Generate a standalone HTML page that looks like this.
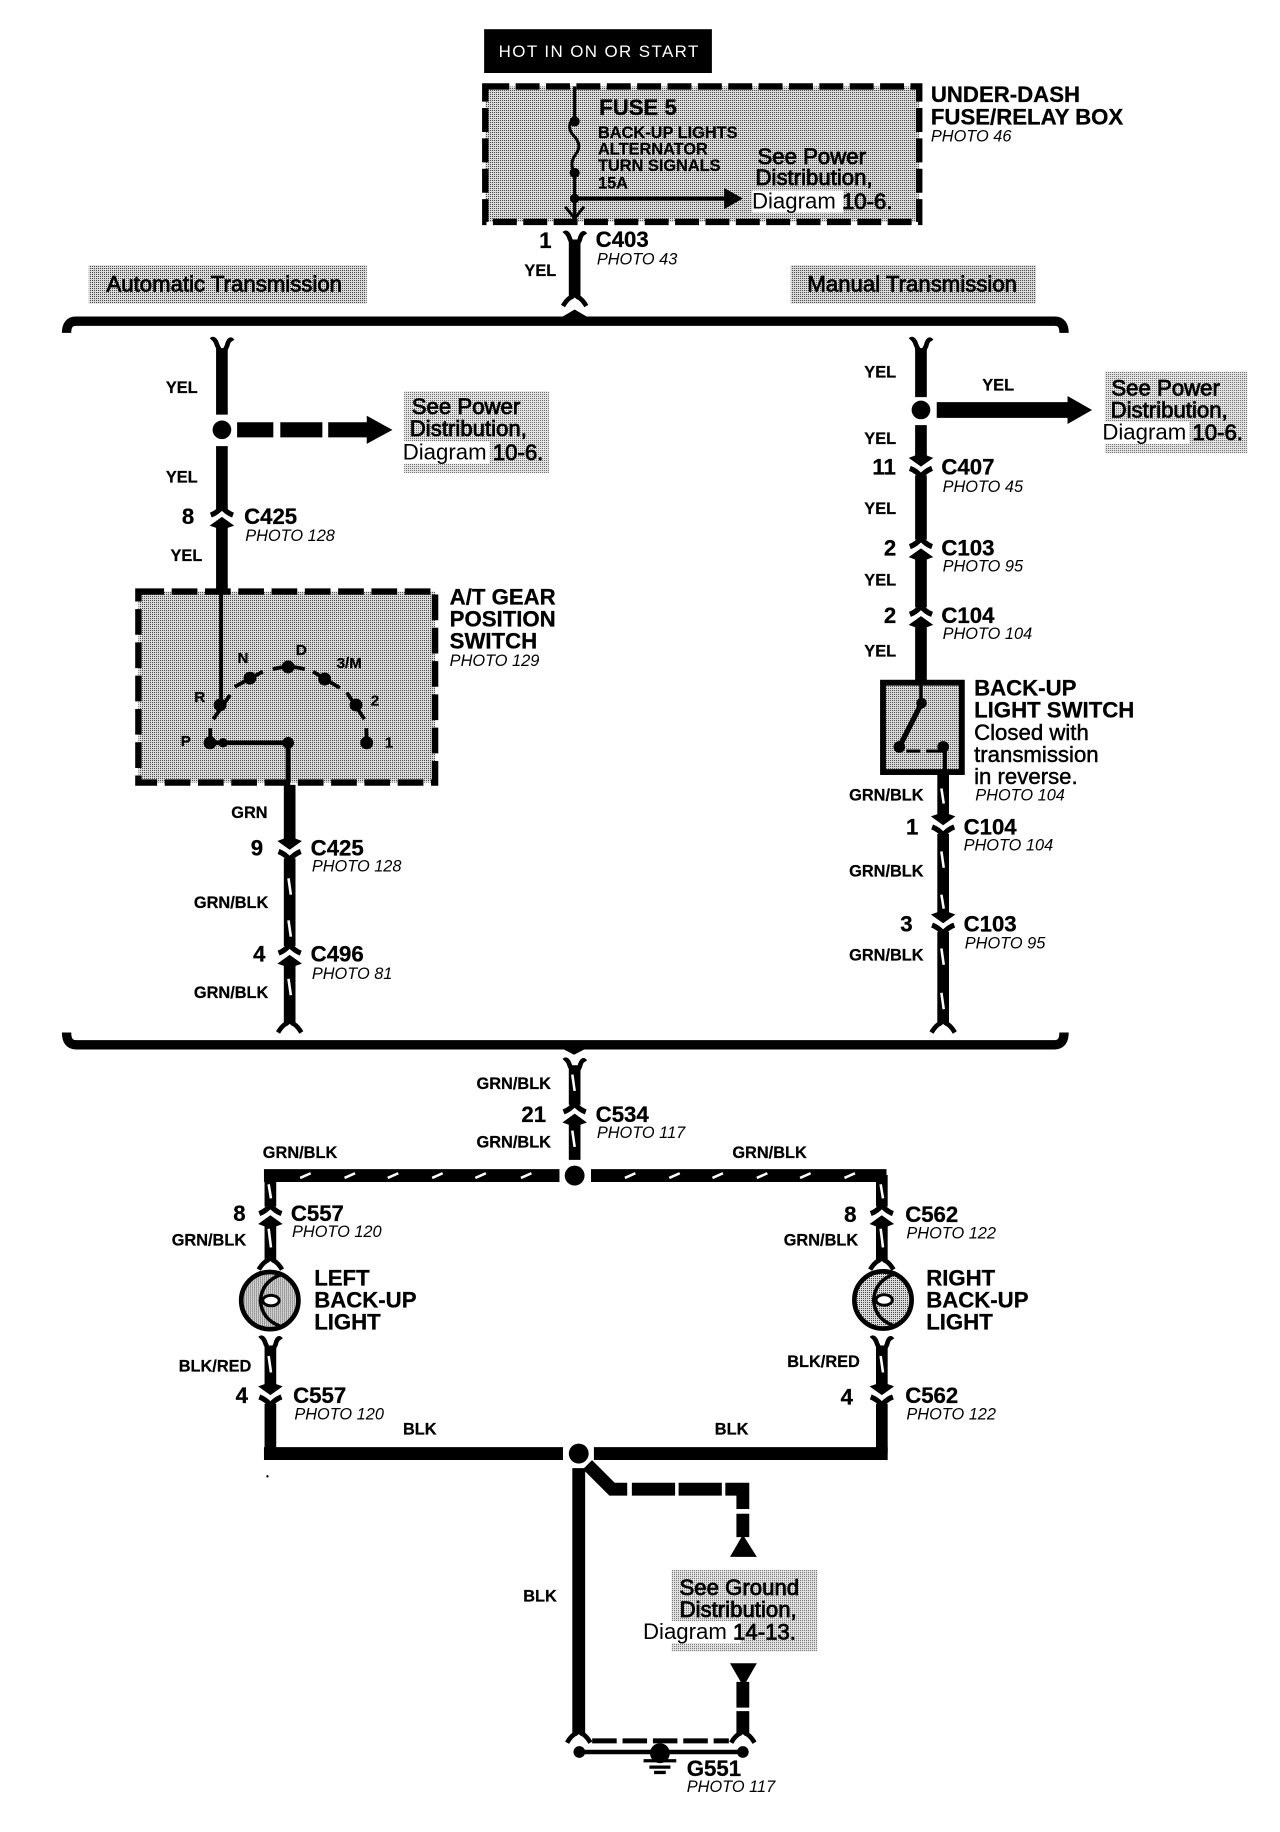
<!DOCTYPE html>
<html><head><meta charset="utf-8"><style>
html,body{margin:0;padding:0;background:#fff}
svg{display:block}
text{font-family:"Liberation Sans",sans-serif;fill:#000;dominant-baseline:central}
.b{font-weight:bold;font-size:19px;stroke:#000;stroke-width:.25}
.s{font-weight:bold;font-size:14px;stroke:#000;stroke-width:.2}
.p{font-style:italic;font-size:14px}
.r{font-size:19px}
.h{stroke:#000;stroke-width:.7}
.c{stroke:#000;stroke-width:.4}
.m{text-anchor:middle}
.w{stroke:#000;fill:none}
.st{stroke:#fff;stroke-width:2.2;fill:none}
</style></head><body>
<svg width="1280" height="1832" viewBox="0 0 1095.9 1568.5" xmlns="http://www.w3.org/2000/svg">
<defs>
<pattern id="d" width="1.7122" height="1.7122" patternUnits="userSpaceOnUse"><rect width="1.7122" height="1.7122" fill="#dcdcdc"/><rect width=".8561" height=".8561" fill="#444"/></pattern>
<pattern id="e" width="1.7122" height="1.7122" patternUnits="userSpaceOnUse"><rect width="1.7122" height="1.7122" fill="#e6e6e6"/><rect width=".8561" height=".8561" fill="#666"/></pattern>
<g id="cu"><path d="M-9.5,-1 Q-4,-3 0,-8 Q4,-3 9.5,-1" class="w" stroke-width="4.5"/><path d="M-10.5,8 L0,0.5 L10.5,8 L5,10 L-5,10Z"/></g>
<g id="cd"><path d="M-9.5,1 Q-4,3 0,8 Q4,3 9.5,1" class="w" stroke-width="4.5"/><path d="M-10.5,-8 L0,-0.5 L10.5,-8 L5,-10 L-5,-10Z"/></g>
<g id="ft"><path d="M-9,-7 Q-7,-9 -5,-5 Q-3,1 0,4 Q4,1 5,-4 Q7,-9 9,-6" class="w" stroke-width="4"/></g>
<g id="fb"><path d="M-10,8 Q-7,3 -4,1 Q-1,0 0,-4 Q1,0 4,1 Q7,3 10,8" class="w" stroke-width="4"/></g>
<g id="fbu"><circle r="24.5" fill="url(#d)" stroke="#000" stroke-width="4"/><path d="M9,-22 Q-7,-16 -8,0 Q-7,16 9,22" class="w" stroke-width="3"/><ellipse cx="1" cy="0" rx="7" ry="4.5" fill="#fff" stroke="#000" stroke-width="2.5"/></g>
</defs>

<!-- top -->
<rect x="414.5" y="25" width="195" height="37.5" fill="#000"/>
<text x="513" y="44" class="m" style="fill:#fff;font-size:14.5px;letter-spacing:1.2px">HOT IN ON OR START</text>

<rect x="415.5" y="74" width="371.5" height="116" fill="url(#d)" stroke="#000" stroke-width="5.5" stroke-dasharray="20.5 5.5"/>
<rect x="644" y="163" width="78" height="19" fill="#fff"/>
<path d="M492,74V100 M492,148V187" class="w" stroke-width="2.7"/>
<path d="M492,100 Q484,108 491,116 Q499,124 493,132 Q487,140 492,148" class="w" stroke-width="2.5"/>
<circle cx="492" cy="104" r="4.3"/><circle cx="492" cy="148" r="4.3"/><circle cx="492" cy="170" r="4"/>
<path d="M492,170H622" class="w" stroke-width="3.5"/><path d="M620,161 L636,170 L620,179Z"/>
<path d="M484,177 L492,187 L500,177" class="w" stroke-width="2.5"/>
<text x="513" y="92" class="b">FUSE 5</text>
<text x="512" y="114" class="s">BACK-UP LIGHTS</text>
<text x="512" y="128" class="s">ALTERNATOR</text>
<text x="512" y="142" class="s">TURN SIGNALS</text>
<text x="512" y="157" class="s">15A</text>
<text x="695" y="134" class="r m h">See Power</text>
<text x="697" y="152" class="r m h">Distribution,</text>
<text x="704" y="172" class="r m">Diagram <tspan class="h">10-6.</tspan></text>
<text x="797" y="81" class="b">UNDER-DASH</text>
<text x="797" y="100" class="b">FUSE/RELAY BOX</text>
<text x="797" y="117" class="p">PHOTO 46</text>

<path d="M492,205V254" class="w" stroke-width="10"/>
<use href="#ft" x="492" y="207"/><use href="#fb" x="492" y="254"/>
<text x="467" y="206" class="b m">1</text>
<text x="510" y="205" class="b">C403</text>
<text x="511" y="222" class="p">PHOTO 43</text>
<text x="449" y="232" class="s">YEL</text>

<rect x="76" y="227" width="238" height="33" fill="url(#d)"/>
<text x="192" y="243" class="r m h">Automatic Transmission</text>
<rect x="677" y="227" width="210" height="33" fill="url(#d)"/>
<text x="781" y="243" class="r m h">Manual Transmission</text>

<path d="M57,285 Q57,275 65,275 H903 Q911,275 911,285" class="w" stroke-width="8"/>
<path d="M480,272 L492,265 L504,272Z"/>
<path d="M57,884 Q57,894.5 65,894.5 H903 Q911,894.5 911,884" class="w" stroke-width="8"/>
<path d="M480,897 L491.5,903 L503,897Z"/>

<!-- automatic -->
<path d="M190,298V355 M190,382V436 M190,449V505" class="w" stroke-width="10"/>
<use href="#ft" x="190" y="298"/>
<circle cx="190" cy="368" r="8"/>
<path d="M203,368H234 M240,368H276 M281,368H316" class="w" stroke-width="13"/><path d="M314,356 L336,368 L314,380Z"/>
<use href="#cu" x="190" y="442"/>
<text x="142" y="332" class="s">YEL</text>
<text x="142" y="409" class="s">YEL</text>
<text x="161" y="442" class="b m">8</text>
<text x="209" y="442" class="b">C425</text>
<text x="210" y="459" class="p">PHOTO 128</text>
<text x="146" y="476" class="s">YEL</text>

<rect x="346" y="335" width="124" height="70" fill="url(#e)"/>
<rect x="342" y="378" width="77" height="19" fill="#fff"/>
<text x="399" y="348" class="r m h">See Power</text>
<text x="401" y="367" class="r m h">Distribution,</text>
<text x="405" y="387" class="r m">Diagram <tspan class="h">10-6.</tspan></text>

<rect x="118.5" y="506.5" width="254" height="163.5" fill="url(#d)" stroke="#000" stroke-width="5.5" stroke-dasharray="22 6.5"/>
<path d="M189.3,506V604" class="w" stroke-width="3.4"/>
<path d="M182.6,615.7 L197,595 M201,588 L225,575 M233.6,573 Q247,569 261,573 M268,575 L291,589 M297,593 L312,615.7 M313.6,623.5 L314,636 M180,623.5 L180,636" class="w" stroke-width="3.2"/>
<circle cx="188.4" cy="603.6" r="5.5"/><circle cx="214" cy="580.6" r="5.5"/><circle cx="246.7" cy="571" r="5.5"/><circle cx="278" cy="581.4" r="5.5"/><circle cx="304.8" cy="603.6" r="5.5"/><circle cx="314" cy="636" r="5.5"/><circle cx="179.8" cy="636" r="5.5"/><circle cx="191" cy="636" r="4"/><circle cx="246.7" cy="636" r="5"/>
<path d="M180,636H247" class="w" stroke-width="4"/><path d="M246.7,636V670" class="w" stroke-width="4.3"/>
<text x="171" y="597" class="s m" style="font-size:13px">R</text>
<text x="208" y="564" class="s m" style="font-size:13px">N</text>
<text x="258" y="557" class="s m" style="font-size:13px">D</text>
<text x="299" y="568" class="s m" style="font-size:13px">3/M</text>
<text x="321" y="600" class="s m" style="font-size:13px">2</text>
<text x="333" y="636" class="s m" style="font-size:13px">1</text>
<text x="159" y="635" class="s m" style="font-size:13px">P</text>
<text x="385" y="511" class="b">A/T GEAR</text>
<text x="385" y="530" class="b">POSITION</text>
<text x="385" y="549" class="b">SWITCH</text>
<text x="385" y="566" class="p">PHOTO 129</text>

<path d="M248,672V721 M248,735V810 M248,825V876" class="w" stroke-width="10"/>
<use href="#cd" x="248" y="728"/><use href="#cu" x="248" y="817"/><use href="#fb" x="248" y="876"/>
<path d="M247,752l2,14 M247,788l2,14 M247,838l2,14" class="st"/>
<text x="198" y="696" class="s">GRN</text>
<text x="220" y="726" class="b m">9</text>
<text x="266" y="726" class="b">C425</text>
<text x="267" y="742" class="p">PHOTO 128</text>
<text x="166" y="773" class="s">GRN/BLK</text>
<text x="222" y="817" class="b m">4</text>
<text x="266" y="817" class="b">C496</text>
<text x="267" y="834" class="p">PHOTO 81</text>
<text x="166" y="850" class="s">GRN/BLK</text>

<!-- manual -->
<path d="M788.5,298V340 M788.5,364V393 M788.5,407V462 M788.5,476V520 M788.5,534V584" class="w" stroke-width="10"/>
<use href="#ft" x="788.5" y="298"/>
<circle cx="788.5" cy="351" r="8"/>
<path d="M802,351H916" class="w" stroke-width="13.5"/><path d="M914,339 L935,351 L914,363Z"/>
<use href="#cd" x="788.5" y="400"/><use href="#cu" x="788.5" y="469"/><use href="#cu" x="788.5" y="527"/>
<text x="740" y="319" class="s">YEL</text>
<text x="841" y="330" class="s">YEL</text>
<text x="740" y="376" class="s">YEL</text>
<text x="740" y="436" class="s">YEL</text>
<text x="740" y="497" class="s">YEL</text>
<text x="740" y="558" class="s">YEL</text>
<text x="757" y="400" class="b m">11</text>
<text x="762" y="469" class="b m">2</text>
<text x="762" y="527" class="b m">2</text>
<text x="806" y="400" class="b">C407</text>
<text x="807" y="417" class="p">PHOTO 45</text>
<text x="806" y="469" class="b">C103</text>
<text x="807" y="485" class="p">PHOTO 95</text>
<text x="806" y="527" class="b">C104</text>
<text x="807" y="543" class="p">PHOTO 104</text>

<rect x="946" y="318" width="122" height="70" fill="url(#e)"/>
<rect x="941" y="361" width="77" height="19" fill="#fff"/>
<text x="998" y="332" class="r m h">See Power</text>
<text x="1001" y="351" class="r m h">Distribution,</text>
<text x="1004" y="370" class="r m">Diagram <tspan class="h">10-6.</tspan></text>

<rect x="756" y="584.5" width="67.5" height="76.5" fill="url(#d)" stroke="#000" stroke-width="5"/>
<path d="M788.5,584V602" class="w" stroke-width="3"/><path d="M789,602 L770,639.5" class="w" stroke-width="4.5"/>
<circle cx="789" cy="602" r="4.5"/><circle cx="770" cy="639.5" r="5"/><circle cx="807.5" cy="639.5" r="5"/>
<path d="M776,643H788 M793,643H806" class="w" stroke-width="2.7"/><path d="M809,639.5V661" class="w" stroke-width="3.5"/>
<text x="834" y="589" class="b">BACK-UP</text>
<text x="834" y="608" class="b">LIGHT SWITCH</text>
<text x="834" y="627" class="r c">Closed with</text>
<text x="834" y="646" class="r c">transmission</text>
<text x="834" y="665" class="r c">in reverse.</text>
<text x="835" y="681" class="p">PHOTO 104</text>

<path d="M807.5,662V700 M807.5,714V784 M807.5,798V876" class="w" stroke-width="10"/>
<use href="#cd" x="807.5" y="707"/><use href="#cd" x="807.5" y="791"/><use href="#fb" x="807.5" y="876"/>
<path d="M806,675l2,13 M806,729l2,14 M806,766l2,12 M806,812l2,14 M806,850l2,14" class="st"/>
<text x="727" y="681" class="s">GRN/BLK</text>
<text x="781" y="708" class="b m">1</text>
<text x="825" y="708" class="b">C104</text>
<text x="825" y="724" class="p">PHOTO 104</text>
<text x="727" y="746" class="s">GRN/BLK</text>
<text x="776" y="791" class="b m">3</text>
<text x="825" y="791" class="b">C103</text>
<text x="826" y="808" class="p">PHOTO 95</text>
<text x="727" y="818" class="s">GRN/BLK</text>

<!-- lower -->
<path d="M492,912V946 M492,961V993" class="w" stroke-width="10"/>
<use href="#ft" x="492" y="915"/><use href="#cu" x="492" y="953"/>
<path d="M490,920l2,14 M490,968l2,14" class="st"/>
<circle cx="492" cy="1006.5" r="8.5"/>
<text x="408" y="928" class="s">GRN/BLK</text>
<text x="457" y="954" class="b m">21</text>
<text x="510" y="954" class="b">C534</text>
<text x="511" y="970" class="p">PHOTO 117</text>
<text x="408" y="978" class="s">GRN/BLK</text>

<path d="M226,1006.5H479 M506,1006.5H759" class="w" stroke-width="11"/>
<path d="M231.5,1006V1033 M231.5,1048V1079 M755,1006V1033 M755,1048V1079" class="w" stroke-width="10"/>
<use href="#cu" x="231.5" y="1040"/><use href="#cu" x="755" y="1040"/>
<use href="#fb" x="231.5" y="1079"/><use href="#fb" x="755" y="1079"/>
<path d="M257,1008.5l9,-4 M295,1008.5l9,-4 M332,1008.5l9,-4 M370,1008.5l9,-4 M407,1008.5l9,-4 M446,1008.5l9,-4 M535,1008.5l9,-4 M573,1008.5l9,-4 M610,1008.5l9,-4 M648,1008.5l9,-4 M685,1008.5l9,-4 M723,1008.5l9,-4" class="st"/>
<path d="M230,1014l2,12 M230,1052l2,16 M754,1014l2,12 M754,1052l2,16" class="st"/>
<text x="225" y="987" class="s">GRN/BLK</text>
<text x="627" y="987" class="s">GRN/BLK</text>
<text x="205" y="1039" class="b m">8</text>
<text x="249" y="1039" class="b">C557</text>
<text x="250" y="1055" class="p">PHOTO 120</text>
<text x="147" y="1062" class="s">GRN/BLK</text>
<text x="728" y="1040" class="b m">8</text>
<text x="775" y="1040" class="b">C562</text>
<text x="776" y="1056" class="p">PHOTO 122</text>
<text x="671" y="1062" class="s">GRN/BLK</text>

<use href="#fbu" x="231" y="1113.5"/><use href="#fbu" x="756" y="1113"/>
<text x="269" y="1094" class="b">LEFT</text>
<text x="269" y="1113" class="b">BACK-UP</text>
<text x="269" y="1132" class="b">LIGHT</text>
<text x="793" y="1094" class="b">RIGHT</text>
<text x="793" y="1113" class="b">BACK-UP</text>
<text x="793" y="1132" class="b">LIGHT</text>

<path d="M231.5,1152V1188 M231.5,1202V1244 M755,1152V1188 M755,1202V1244" class="w" stroke-width="10"/>
<use href="#ft" x="231.5" y="1153"/><use href="#ft" x="755" y="1153"/>
<use href="#cd" x="231.5" y="1195"/><use href="#cd" x="755" y="1195"/>
<path d="M230,1161l2,14 M754,1161l2,14" class="st"/>
<path d="M226,1244.5H482 M508.5,1244.5H760" class="w" stroke-width="11"/>
<circle cx="495.5" cy="1244.5" r="8.5"/>
<circle cx="229" cy="1264" r="1"/>
<text x="153" y="1170" class="s">BLK/RED</text>
<text x="674" y="1166" class="s">BLK/RED</text>
<text x="207" y="1195" class="b m">4</text>
<text x="251" y="1195" class="b">C557</text>
<text x="252" y="1211" class="p">PHOTO 120</text>
<text x="725" y="1196" class="b m">4</text>
<text x="775" y="1195" class="b">C562</text>
<text x="776" y="1211" class="p">PHOTO 122</text>
<text x="345" y="1224" class="s">BLK</text>
<text x="612" y="1224" class="s">BLK</text>

<path d="M495.5,1257V1484" class="w" stroke-width="11"/>
<path d="M503,1254 L524,1275 H537 M541,1275H578 M581,1275H618 M621,1275H636V1292 M636,1296V1316" class="w" stroke-width="11"/>
<path d="M636,1314 L625,1333 H648Z"/>
<text x="448" y="1367" class="s">BLK</text>
<rect x="575" y="1344" width="125" height="70" fill="url(#e)"/>
<rect x="548" y="1388" width="86" height="19" fill="#fff"/>
<text x="633" y="1359" class="r m h">See Ground</text>
<text x="632" y="1378" class="r m h">Distribution,</text>
<text x="616" y="1397" class="r m">Diagram <tspan class="h">14-13.</tspan></text>
<path d="M625,1424 H648 L636.5,1444Z"/>
<path d="M636,1440V1462 M636,1465V1484" class="w" stroke-width="11"/>
<use href="#fb" x="495.5" y="1484"/><use href="#fb" x="636" y="1484"/>
<path d="M507,1490.5H624" class="w" stroke-width="4.3" stroke-dasharray="21 5"/>
<path d="M496,1500H636" class="w" stroke-width="3.8"/>
<circle cx="496" cy="1500" r="5"/><circle cx="636" cy="1500" r="5"/>
<circle cx="565" cy="1501" r="8.5"/>
<path d="M551,1507.5H579 M556,1513H574 M560,1517.5H570" class="w" stroke-width="2.8"/>
<text x="588" y="1514" class="b">G551</text>
<text x="588" y="1530" class="p">PHOTO 117</text>
</svg>
</body></html>
